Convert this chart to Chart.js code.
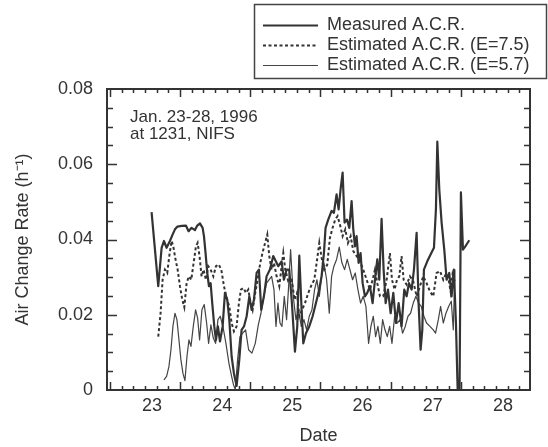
<!DOCTYPE html>
<html><head><meta charset="utf-8">
<script src="https://cdn.jsdelivr.net/npm/chart.js@4.4.1/dist/chart.umd.min.js"></script>
<style>html,body{margin:0;padding:0;background:#fff}</style>
</head><body>
<canvas id="c" width="548" height="447"></canvas>
<script>
const dayLabels = [23, 24, 25, 26, 27, 28];
const yTicks = [0, 0.02, 0.04, 0.06, 0.08];
const seriesNames = ['Measured A.C.R.', 'Estimated A.C.R. (E=7.5)', 'Estimated A.C.R. (E=5.7)'];
const noteLines = ['Jan. 23-28, 1996', 'at 1231, NIFS'];

const measuredDays = [22.995,23.090,23.138,23.171,23.209,23.256,23.294,23.328,23.361,23.423,23.484,23.522,23.565,23.613,23.646,23.684,23.722,23.741,23.764,23.788,23.812,23.836,23.859,23.888,23.912,23.940,23.969,24.007,24.040,24.073,24.102,24.135,24.168,24.206,24.244,24.277,24.311,24.349,24.387,24.420,24.453,24.491,24.524,24.557,24.595,24.633,24.681,
24.728,24.800,24.847,24.880,24.918,24.956,24.994,25.037,25.070,25.099,25.132,25.156,25.194,25.241,25.289,25.336,25.383,25.416,25.450,25.473,25.511,25.559,25.592,25.630,25.659,25.687,25.716,25.744,25.778,25.811,25.844,25.868,25.892,25.915,25.944,25.972,26.001,26.034,26.067,26.105,26.143,26.177,26.210,26.238,26.271,26.300,26.329,26.362,26.400,26.438,26.476,26.514,26.556,26.594,26.628,26.661,26.699,26.732,26.770,26.798,26.827,26.851,26.874,26.922,26.969,27.017,27.045,27.065,27.093,27.126,27.164,27.197,27.235,27.268,27.301,27.330,27.354,27.382,27.401,27.430,27.472,27.520];
const measuredValues = [0.0473,0.0276,0.0378,0.0396,0.0378,0.0396,0.0413,0.0427,0.0434,0.0436,0.0437,0.0422,0.0431,0.0425,0.0437,0.0443,0.0431,0.0409,0.0364,0.0311,0.0276,0.0284,0.0231,0.0169,0.0133,0.0169,0.0129,0.0169,0.0258,0.0240,0.0187,0.0089,0.0044,0.0011,0.0080,0.0160,0.0169,0.0196,0.0249,0.0213,0.0240,0.0311,0.0320,0.0213,0.0249,0.0302,0.0320,
0.0356,0.0329,0.0342,0.0293,0.0320,0.0320,0.0231,0.0102,0.0169,0.0357,0.0213,0.0124,0.0151,0.0169,0.0196,0.0231,0.0267,0.0302,0.0364,0.0431,0.0453,0.0476,0.0471,0.0520,0.0480,0.0533,0.0578,0.0445,0.0453,0.0431,0.0502,0.0427,0.0382,0.0409,0.0338,0.0364,0.0284,0.0249,0.0258,0.0276,0.0231,0.0293,0.0347,0.0293,0.0455,0.0320,0.0231,0.0267,0.0204,0.0258,0.0178,0.0231,0.0169,0.0267,0.0249,0.0284,0.0267,0.0320,0.0418,0.0231,0.0107,0.0160,0.0320,0.0342,0.0360,0.0378,0.0480,0.0660,0.0533,0.0445,0.0373,0.0293,0.0311,0.0249,0.0320,0.0178,0.0004,0.0004,0.0525,0.0373,0.0384,0.0398];

const est75Days = [23.090,23.123,23.152,23.185,23.218,23.247,23.280,23.304,23.332,23.366,23.399,23.432,23.461,23.494,23.527,23.560,23.594,23.627,23.651,23.679,23.707,23.736,23.769,23.802,23.836,23.874,23.912,23.950,23.988,24.026,24.064,24.102,24.135,24.168,24.206,24.239,24.268,24.306,24.339,24.372,24.401,24.434,24.467,24.505,24.543,24.581,24.619,24.643,
24.671,24.704,24.738,24.776,24.814,24.842,24.871,24.899,24.942,24.990,25.032,25.066,25.099,25.137,25.180,25.227,25.275,25.313,25.346,25.384,25.417,25.455,25.497,25.535,25.573,25.611,25.644,25.678,25.716,25.754,25.792,25.830,25.868,25.915,25.963,26.010,26.058,26.105,26.143,26.177,26.210,26.248,26.295,26.343,26.390,26.419,26.457,26.490,26.523,26.556,26.585,26.628,26.675,26.722,26.770,26.817,26.865,26.912,26.960,27.007,27.055,27.103,27.150,27.188,27.226,27.254,27.282,27.311];
const est75Values = [0.0142,0.0204,0.0293,0.0320,0.0311,0.0356,0.0396,0.0382,0.0351,0.0320,0.0276,0.0240,0.0220,0.0284,0.0302,0.0293,0.0338,0.0382,0.0391,0.0354,0.0302,0.0320,0.0293,0.0329,0.0320,0.0302,0.0329,0.0334,0.0320,0.0276,0.0244,0.0222,0.0178,0.0156,0.0169,0.0231,0.0267,0.0271,0.0258,0.0267,0.0236,0.0213,0.0253,0.0293,0.0338,0.0369,0.0396,0.0413,
0.0356,0.0320,0.0338,0.0302,0.0276,0.0320,0.0364,0.0320,0.0289,0.0293,0.0240,0.0258,0.0196,0.0213,0.0231,0.0258,0.0280,0.0293,0.0338,0.0391,0.0351,0.0320,0.0333,0.0404,0.0431,0.0453,0.0462,0.0440,0.0409,0.0427,0.0391,0.0409,0.0369,0.0356,0.0342,0.0320,0.0293,0.0267,0.0293,0.0320,0.0284,0.0249,0.0249,0.0293,0.0364,0.0293,0.0267,0.0293,0.0302,0.0356,0.0293,0.0280,0.0302,0.0289,0.0249,0.0276,0.0302,0.0284,0.0262,0.0249,0.0311,0.0316,0.0293,0.0309,0.0293,0.0262,0.0307,0.0289];

const est57Days = [23.171,23.209,23.242,23.271,23.299,23.328,23.356,23.385,23.413,23.442,23.470,23.499,23.527,23.556,23.589,23.622,23.651,23.679,23.712,23.745,23.779,23.807,23.840,23.874,23.907,23.940,23.973,24.011,24.054,24.097,24.135,24.163,24.187,24.220,24.254,24.292,24.334,24.377,24.424,24.472,24.515,24.553,24.595,24.633,
24.705,24.738,24.767,24.795,24.824,24.852,24.885,24.918,24.947,24.975,25.013,25.051,25.089,25.127,25.165,25.203,25.241,25.279,25.317,25.350,25.384,25.417,25.450,25.488,25.526,25.559,25.592,25.630,25.668,25.706,25.744,25.782,25.820,25.858,25.896,25.934,25.972,26.010,26.048,26.086,26.119,26.153,26.186,26.219,26.253,26.286,26.319,26.352,26.386,26.419,26.457,26.495,26.533,26.570,26.608,26.647,26.684,26.722,26.760,26.798,26.836,26.874,26.912,26.960,27.007,27.040,27.079,27.112,27.150,27.188,27.226,27.264,27.292,27.316];
const est57Values = [0.0027,0.0036,0.0062,0.0107,0.0169,0.0204,0.0187,0.0133,0.0080,0.0044,0.0025,0.0089,0.0133,0.0116,0.0169,0.0213,0.0191,0.0133,0.0213,0.0227,0.0178,0.0124,0.0173,0.0138,0.0124,0.0187,0.0196,0.0169,0.0124,0.0071,0.0036,0.0013,0.0002,0.0080,0.0142,0.0151,0.0160,0.0107,0.0098,0.0124,0.0173,0.0204,0.0249,0.0284,
0.0302,0.0267,0.0169,0.0231,0.0178,0.0169,0.0249,0.0187,0.0276,0.0373,0.0249,0.0187,0.0213,0.0169,0.0187,0.0160,0.0196,0.0213,0.0267,0.0293,0.0249,0.0302,0.0338,0.0293,0.0204,0.0302,0.0329,0.0347,0.0380,0.0338,0.0320,0.0347,0.0320,0.0293,0.0311,0.0267,0.0231,0.0249,0.0222,0.0124,0.0169,0.0196,0.0142,0.0169,0.0124,0.0187,0.0160,0.0142,0.0169,0.0124,0.0196,0.0178,0.0187,0.0151,0.0169,0.0196,0.0204,0.0231,0.0249,0.0231,0.0222,0.0196,0.0178,0.0169,0.0160,0.0151,0.0187,0.0222,0.0178,0.0204,0.0222,0.0236,0.0160,0.0320];

const FONT = '"Liberation Sans", Arial, Helvetica, sans-serif';
const INK = '#333';
const pts = (d, v) => d.map((x, i) => ({x, y: v[i]}));

const framePlugin = {
  id: 'frame',
  afterDatasetsDraw(chart) {
    const {ctx, chartArea: a, scales: {x, y}} = chart;
    ctx.save();
    ctx.strokeStyle = INK;
    ctx.lineWidth = 2;
    ctx.strokeRect(a.left, a.top, a.right - a.left, a.bottom - a.top);
    ctx.lineWidth = 1.5;
    ctx.beginPath();
    for (let i = -12; i < 60; i++) {
      const t = 22.40 + i / 6;
      if (t <= x.min + 0.02 || t >= x.max - 0.02) continue;
      const px = Math.round(x.getPixelForValue(t)) + 0.5;
      const len = (i % 6 === 0) ? 8 : 4;
      ctx.moveTo(px, a.bottom); ctx.lineTo(px, a.bottom - len);
      ctx.moveTo(px, a.top); ctx.lineTo(px, a.top + len);
    }
    for (let i = 1; i < 16; i++) {
      const v = i * 0.005;
      const py = Math.round(y.getPixelForValue(v)) + 0.5;
      const len = (i % 4 === 0) ? 10 : 6;
      ctx.moveTo(a.left, py); ctx.lineTo(a.left + len, py);
      ctx.moveTo(a.right, py); ctx.lineTo(a.right - len, py);
    }
    ctx.stroke();
    ctx.restore();
  },
  afterDraw(chart) {
    const ctx = chart.ctx;
    ctx.save();
    // annotation
    ctx.fillStyle = INK;
    ctx.font = '17px ' + FONT;
    ctx.textBaseline = 'middle';
    ctx.textAlign = 'left';
    ctx.fillText(noteLines[0], 130, 117);
    ctx.fillText(noteLines[1], 130, 134);
    // legend
    ctx.strokeStyle = '#444';
    ctx.lineWidth = 1.5;
    ctx.strokeRect(254.5, 4.5, 292, 74);
    ctx.font = '18px ' + FONT;
    const rows = [25, 45, 65];
    chart.data.datasets.forEach((ds, i) => {
      ctx.save();
      ctx.strokeStyle = ds.borderColor;
      ctx.lineWidth = ds.borderWidth;
      ctx.setLineDash(ds.borderDash || []);
      ctx.beginPath();
      ctx.moveTo(263, rows[i] + 0.5);
      ctx.lineTo(318, rows[i] + 0.5);
      ctx.stroke();
      ctx.restore();
      ctx.fillStyle = INK;
      ctx.fillText(ds.label, 327, rows[i]);
    });
    ctx.restore();
  }
};

new Chart(document.getElementById('c'), {
  type: 'line',
  data: {
    datasets: [
      {label: seriesNames[0], data: pts(measuredDays, measuredValues), borderColor: '#333', borderWidth: 2.2, pointRadius: 0, tension: 0, borderJoinStyle: 'round'},
      {label: seriesNames[1], data: pts(est75Days, est75Values), borderColor: '#333', borderWidth: 2, borderDash: [3, 2.5], pointRadius: 0, tension: 0},
      {label: seriesNames[2], data: pts(est57Days, est57Values), borderColor: '#444', borderWidth: 1.2, pointRadius: 0, tension: 0, borderJoinStyle: 'round'}
    ]
  },
  options: {
    responsive: false,
    animation: false,
    layout: {padding: {top: 89, right: 18, bottom: 0, left: 0}},
    plugins: {legend: {display: false}, tooltip: {enabled: false}},
    scales: {
      x: {
        type: 'linear', min: 22.36, max: 28.385,
        afterBuildTicks(s) { s.ticks = dayLabels.map(v => ({value: v})); },
        afterFit(s) { s.height = 57; },
        grid: {display: false, drawTicks: false},
        border: {display: false},
        ticks: {font: {family: FONT, size: 18}, color: INK, padding: 5, maxRotation: 0, autoSkip: false, callback: v => String(v)},
        title: {display: true, text: 'Date', font: {family: FONT, size: 18}, color: INK, padding: {top: 0, bottom: 0}}
      },
      y: {
        min: 0, max: 0.08,
        afterBuildTicks(s) { s.ticks = yTicks.map(v => ({value: v})); },
        afterFit(s) { s.width = 107; },
        grid: {display: false, drawTicks: false},
        border: {display: false},
        ticks: {font: {family: FONT, size: 18}, color: INK, padding: 14, callback: v => v === 0 ? '0' : v.toFixed(2)},
        title: {display: true, text: 'Air Change Rate (h\u207B\u00B9)', font: {family: FONT, size: 18}, color: INK, padding: {top: 12, bottom: 0}}
      }
    }
  },
  plugins: [framePlugin]
});
</script>
</body></html>
